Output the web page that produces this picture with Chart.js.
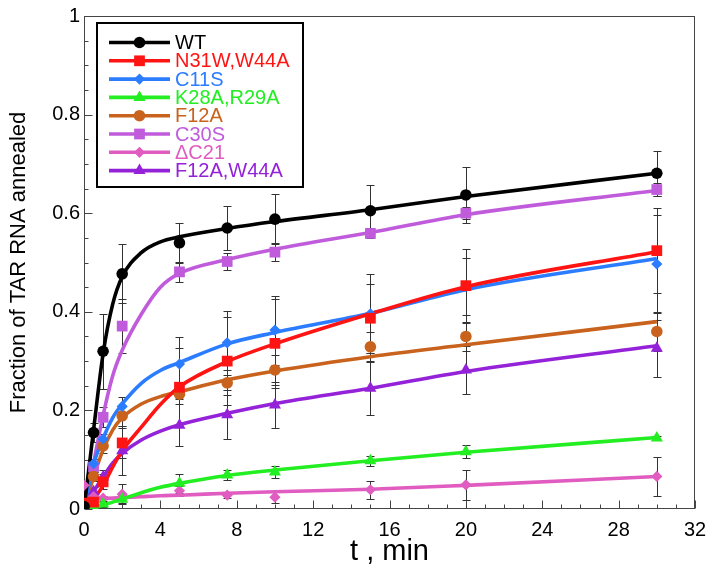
<!DOCTYPE html>
<html><head><meta charset="utf-8">
<script src="https://cdn.jsdelivr.net/npm/chart.js@4.4.0/dist/chart.umd.min.js"></script>
<style>html,body{margin:0;padding:0;background:#fff;}canvas{display:block;}</style>
</head><body>
<canvas id="c" width="714" height="569"></canvas>
<script>
// ---------------- data ----------------
const seriesNames = ['WT', 'N31W,W44A', 'C11S', 'K28A,R29A', 'F12A', 'C30S', '\u0394C21', 'F12A,W44A'];
const seriesColors = ['#000000', '#ff1414', '#2b7cff', '#22ee22', '#c8621c', '#c05cdc', '#e05cc0', '#9422d8'];
const legendTextColors = ['#000000', '#ff1414', '#2b7cff', '#22ee22', '#c8621c', '#c05cdc', '#e05cc0', '#9422d8'];
const seriesMarkers = ['circle', 'rect', 'rectRot', 'triangle', 'circle', 'rect', 'rectRot', 'triangle'];

// measured time points (min)
const tPoints = [0, 0.5, 1, 2, 5, 7.5, 10, 15, 20, 30];
const wtVals     = [0.005, 0.155, 0.320, 0.477, 0.540, 0.570, 0.588, 0.605, 0.637, 0.681];
const n31wVals   = [0.012, 0.014, 0.055, 0.134, 0.247, 0.300, 0.336, 0.387, 0.453, 0.524];
const c11sVals   = [0.000, 0.092, 0.142, 0.208, 0.294, 0.337, 0.363, 0.396, 0.452, 0.497];
const k28aVals   = [0.002, 0.005, 0.010, 0.020, 0.052, 0.069, 0.075, 0.098, 0.116, 0.144];
const f12aVals   = [0.000, 0.066, 0.128, 0.189, 0.233, 0.256, 0.282, 0.329, 0.350, 0.360];
const c30sVals   = [0.000, 0.085, 0.186, 0.371, 0.481, 0.502, 0.521, 0.559, 0.600, 0.648];
const dc21Vals   = [0.048, 0.025, 0.022, 0.030, 0.037, 0.028, 0.024, 0.039, 0.049, 0.066];
const f12w44Vals = [0.005, 0.035, 0.065, 0.118, 0.170, 0.191, 0.211, 0.245, 0.282, 0.326];

// error bars (+/-)
const wtErr     = [0.000, 0.020, 0.076, 0.060, 0.040, 0.045, 0.050, 0.053, 0.057, 0.046];
const n31wErr   = [0.000, 0.005, 0.015, 0.030, 0.080, 0.090, 0.090, 0.070, 0.075, 0.086];
const c11sErr   = [0.000, 0.010, 0.010, 0.020, 0.054, 0.065, 0.070, 0.080, 0.058, 0.100];
const k28aErr   = [0.000, 0.003, 0.005, 0.008, 0.019, 0.011, 0.012, 0.010, 0.013, 0.005];
const f12aErr   = [0.000, 0.010, 0.015, 0.020, 0.010, 0.025, 0.030, 0.030, 0.030, 0.040];
const c30sErr   = [0.000, 0.010, 0.020, 0.055, 0.020, 0.018, 0.018, 0.010, 0.012, 0.013];
const dc21Err   = [0.000, 0.005, 0.005, 0.020, 0.010, 0.005, 0.011, 0.018, 0.030, 0.040];
const f12w44Err = [0.000, 0.010, 0.015, 0.050, 0.042, 0.050, 0.047, 0.055, 0.048, 0.058];

// fitted curves
const tFit = [0, 0.5, 1, 1.5, 2, 3, 4, 5, 7.5, 10, 15, 20, 30];
const wtFit     = [0.000, 0.160, 0.315, 0.415, 0.471, 0.520, 0.542, 0.552, 0.569, 0.583, 0.607, 0.634, 0.681];
const n31wFit   = [0.005, 0.020, 0.048, 0.085, 0.118, 0.166, 0.212, 0.248, 0.299, 0.335, 0.396, 0.451, 0.522];
const c11sFit   = [0.000, 0.090, 0.143, 0.185, 0.213, 0.255, 0.281, 0.297, 0.335, 0.358, 0.397, 0.445, 0.508];
const k28aFit   = [0.000, 0.004, 0.008, 0.014, 0.020, 0.033, 0.044, 0.052, 0.068, 0.079, 0.098, 0.115, 0.145];
const f12aFit   = [0.000, 0.065, 0.120, 0.160, 0.185, 0.213, 0.228, 0.238, 0.262, 0.280, 0.309, 0.333, 0.380];
const c30sFit   = [0.000, 0.093, 0.190, 0.270, 0.322, 0.395, 0.450, 0.478, 0.506, 0.527, 0.561, 0.597, 0.646];
const dc21Fit   = [0.018, 0.020, 0.021, 0.022, 0.023, 0.025, 0.027, 0.028, 0.032, 0.035, 0.040, 0.048, 0.066];
const f12w44Fit = [0.000, 0.035, 0.065, 0.093, 0.113, 0.140, 0.158, 0.171, 0.194, 0.214, 0.245, 0.279, 0.331];

// axes
const xTicks = [0, 4, 8, 12, 16, 20, 24, 28, 32];
const xTickLabels = ['0', '4', '8', '12', '16', '20', '24', '28', '32'];
const yTicks = [0, 0.2, 0.4, 0.6, 0.8, 1];
const yTickLabels = ['0', '0.2', '0.4', '0.6', '0.8', '1'];
const xTitle = 't , min';
const yTitle = 'Fraction of TAR RNA annealed';

const allVals = [wtVals, n31wVals, c11sVals, k28aVals, f12aVals, c30sVals, dc21Vals, f12w44Vals];
const allErr  = [wtErr, n31wErr, c11sErr, k28aErr, f12aErr, c30sErr, dc21Err, f12w44Err];
const allFit  = [wtFit, n31wFit, c11sFit, k28aFit, f12aFit, c30sFit, dc21Fit, f12w44Fit];

// ---------------- build ----------------
const FONT = '"Liberation Sans", Arial, Helvetica, sans-serif';
const markerRadius = {circle: 5.8, rect: 7.6, rectRot: 5.6, triangle: 7};

const pointSets = seriesNames.map((name, i) => ({
  label: name,
  type: 'line',
  showLine: false,
  data: tPoints.map((t, j) => ({x: t, y: allVals[i][j]})),
  errors: allErr[i],
  pointStyle: seriesMarkers[i],
  pointRadius: markerRadius[seriesMarkers[i]],
  pointBackgroundColor: seriesColors[i],
  pointBorderColor: seriesColors[i],
  pointBorderWidth: 0,
  borderColor: seriesColors[i],
  backgroundColor: seriesColors[i]
}));
const fitSets = seriesNames.map((name, i) => ({
  label: name + ' fit',
  type: 'line',
  data: tFit.map((t, j) => ({x: t, y: allFit[i][j]})),
  borderColor: seriesColors[i],
  borderWidth: 3.6,
  pointRadius: 0,
  fill: false,
  cubicInterpolationMode: 'monotone'
}));

function drawMarker(ctx, style, x, y, r) {
  ctx.beginPath();
  if (style === 'circle') {
    ctx.arc(x, y, r, 0, Math.PI * 2);
  } else if (style === 'rect') {
    const s = r * Math.SQRT1_2;
    ctx.rect(x - s, y - s, 2 * s, 2 * s);
  } else if (style === 'rectRot') {
    ctx.moveTo(x - r, y); ctx.lineTo(x, y - r); ctx.lineTo(x + r, y); ctx.lineTo(x, y + r); ctx.closePath();
  } else if (style === 'triangle') {
    for (let k = 0; k < 3; k++) {
      const a = k * 2 * Math.PI / 3;
      const px = x + Math.sin(a) * r, py = y - Math.cos(a) * r;
      if (k === 0) ctx.moveTo(px, py); else ctx.lineTo(px, py);
    }
    ctx.closePath();
  }
  ctx.fill();
}

const frameTicks = {
  id: 'frameTicks',
  beforeDatasetsDraw(chart) {
    const {ctx, chartArea: a, scales: {x, y}} = chart;
    ctx.save();
    ctx.strokeStyle = '#444';
    ctx.lineWidth = 1;
    const L = Math.round(a.left) + 0.5, R = Math.round(a.right) - 0.5;
    const T = Math.round(a.top) + 0.5, B = Math.round(a.bottom) - 0.5;
    ctx.strokeRect(L, T, R - L, B - T);
    ctx.beginPath();
    for (let v = x.min; v <= x.max + 1e-9; v += 1) {
      const px = Math.round(x.getPixelForValue(v)) + 0.5;
      const major = xTicks.includes(v);
      ctx.moveTo(px, B); ctx.lineTo(px, B - (major ? 8 : 4));
    }
    for (let k = 0; k <= 20; k++) {
      const v = k * 0.05;
      const py = Math.round(y.getPixelForValue(v)) + 0.5;
      const major = k % 4 === 0;
      ctx.moveTo(L, py); ctx.lineTo(L + (major ? 8 : 4), py);
    }
    ctx.stroke();
    // error bars
    ctx.strokeStyle = '#333';
    ctx.lineWidth = 1;
    ctx.beginPath();
    chart.data.datasets.forEach((ds, i) => {
      if (!ds.errors) return;
      const meta = chart.getDatasetMeta(i);
      meta.data.forEach((pt, j) => {
        const e = ds.errors[j];
        if (!e) return;
        const v = ds.data[j].y;
        const px = Math.round(pt.x) + 0.5;
        const top = Math.round(y.getPixelForValue(v + e)) + 0.5;
        const bot = Math.round(y.getPixelForValue(v - e)) + 0.5;
        ctx.moveTo(px, top); ctx.lineTo(px, bot);
        ctx.moveTo(px - 4, top); ctx.lineTo(px + 4, top);
        ctx.moveTo(px - 4, bot); ctx.lineTo(px + 4, bot);
      });
    });
    ctx.stroke();
    ctx.restore();
  }
};

const boxLegend = {
  id: 'boxLegend',
  afterDatasetsDraw(chart) {
    const {ctx, chartArea: a} = chart;
    const left = a.left + 13, top = a.top + 7, w = 206, h = 164;
    ctx.save();
    ctx.fillStyle = '#fff';
    ctx.fillRect(left, top, w, h);
    ctx.strokeStyle = '#000';
    ctx.lineWidth = 2;
    ctx.strokeRect(left, top, w, h);
    seriesNames.forEach((name, i) => {
      const yy = top + 19.5 + i * 18.3;
      ctx.strokeStyle = seriesColors[i];
      ctx.lineWidth = 3.6;
      ctx.beginPath();
      ctx.moveTo(left + 12, yy); ctx.lineTo(left + 73, yy);
      ctx.stroke();
      ctx.fillStyle = seriesColors[i];
      drawMarker(ctx, seriesMarkers[i], left + 42.5, yy, markerRadius[seriesMarkers[i]]);
      ctx.fillStyle = legendTextColors[i];
      ctx.font = '20px ' + FONT;
      ctx.textBaseline = 'middle';
      ctx.textAlign = 'left';
      ctx.fillText(name, left + 78, yy + 1);
    });
    ctx.restore();
  }
};

new Chart(document.getElementById('c'), {
  data: {datasets: [...pointSets, ...fitSets]},
  options: {
    responsive: false,
    devicePixelRatio: 1,
    animation: false,
    layout: {padding: {top: 16, right: 19, left: 0, bottom: 0}},
    plugins: {legend: {display: false}, tooltip: {enabled: false}},
    scales: {
      x: {
        type: 'linear', min: 0, max: 32,
        grid: {display: false, drawTicks: false},
        border: {display: false},
        afterBuildTicks: s => { s.ticks = xTicks.map(v => ({value: v})); },
        afterFit: s => { s.height = 60; s.paddingLeft = 0; s.paddingRight = 0; },
        ticks: {
          autoSkip: false, maxRotation: 0, padding: 9, color: '#000',
          font: {family: FONT, size: 20},
          callback: (v, idx) => xTickLabels[idx]
        },
        title: {display: true, text: xTitle, color: '#000', font: {family: FONT, size: 29}, padding: {top: 0, bottom: 0}}
      },
      y: {
        type: 'linear', min: 0, max: 1,
        grid: {display: false, drawTicks: false},
        border: {display: false},
        afterBuildTicks: s => { s.ticks = yTicks.map(v => ({value: v})); },
        afterFit: s => { s.width = 84; s.paddingTop = 0; s.paddingBottom = 0; },
        ticks: {
          autoSkip: false, padding: 4, color: '#000',
          font: {family: FONT, size: 20},
          callback: (v, idx) => yTickLabels[idx]
        },
        title: {display: true, text: yTitle, color: '#000', font: {family: FONT, size: 22}, padding: {top: 6, bottom: 0}}
      }
    }
  },
  plugins: [frameTicks, boxLegend]
});
</script>
</body></html>
